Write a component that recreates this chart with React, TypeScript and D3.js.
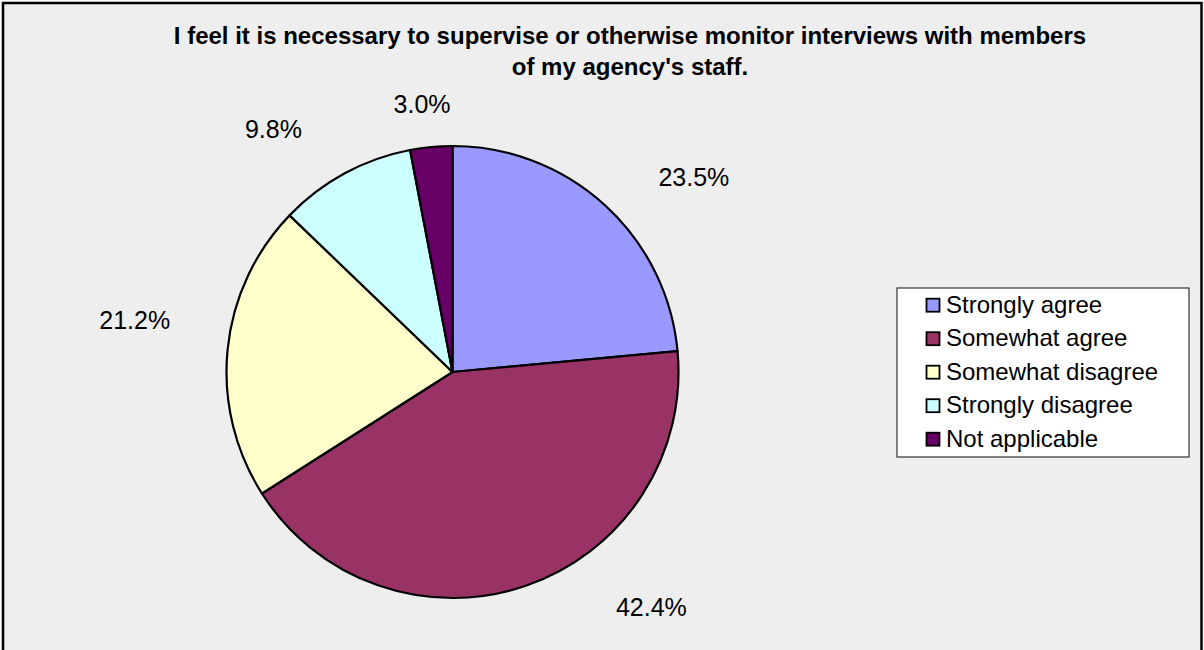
import React from "react";
import * as d3 from "d3";

const categories = ["Strongly agree", "Somewhat agree", "Somewhat disagree", "Strongly disagree", "Not applicable"];
const values = [23.5, 42.4, 21.2, 9.8, 3.0];
const colors = ["#9999FF", "#993366", "#FFFFCC", "#CCFFFF", "#660066"];
const titleLines = [
  "I feel it is necessary to supervise or otherwise monitor interviews with members",
  "of my agency's staff.",
];

// label placement tweaks (Excel best-fit style): angle nudge in degrees, radius in px
const labelNudgeDeg = [8.8, -21.3, 3.6, -7.9, -1.1];
const labelRadius = [310, 308, 322, 302, 269];

const W = 1204;
const H = 650;
const FONT = "'Liberation Sans', Arial, Helvetica, sans-serif";

export default function App() {
  const cx = 452.5;
  const cy = 372;
  const r = 226;

  const pie = d3
    .pie<number>()
    .sort(null)
    .value((d) => d);
  const arcs = pie(values);
  const arcGen = d3.arc<d3.PieArcDatum<number>>().innerRadius(0).outerRadius(r);

  const legendX = 897;
  const legendY = 288;
  const legendW = 292;
  const legendH = 169;
  const rowY = d3
    .scaleLinear()
    .domain([0, categories.length - 1])
    .range([legendY + 24.7, legendY + 24.7 + 33.5 * (categories.length - 1)]);

  return (
    <svg
      width={W}
      height={H}
      style={{ position: "absolute", left: 0, top: 0, display: "block" }}
      xmlns="http://www.w3.org/2000/svg"
    >
      <rect x={0} y={0} width={W} height={H} fill="#ffffff" />
      <rect x={3} y={3} width={1198.5} height={680} fill="#EEEEEE" stroke="#000" strokeWidth={2.5} />
      <text
        x={630}
        y={44}
        textAnchor="middle"
        fontFamily={FONT}
        fontWeight="bold"
        fontSize={24}
        fill="#000"
      >
        {titleLines.map((l, i) => (
          <tspan key={i} x={630} y={44 + i * 31}>
            {l}
          </tspan>
        ))}
      </text>
      <g transform={`translate(${cx},${cy})`}>
        {arcs.map((a, i) => (
          <path key={i} d={arcGen(a) || ""} fill={colors[i]} stroke="#000" strokeWidth={2.2} strokeLinejoin="round" />
        ))}
        {arcs.map((a, i) => {
          const mid = (a.startAngle + a.endAngle) / 2 + (labelNudgeDeg[i] * Math.PI) / 180;
          const lx = Math.sin(mid) * labelRadius[i];
          const ly = -Math.cos(mid) * labelRadius[i];
          return (
            <text
              key={"l" + i}
              x={lx}
              y={ly}
              dy="0.35em"
              textAnchor="middle"
              fontFamily={FONT}
              fontSize={25}
              fill="#000"
            >
              {values[i].toFixed(1) + "%"}
            </text>
          );
        })}
      </g>
      <rect x={legendX} y={legendY} width={legendW} height={legendH} fill="#fff" stroke="#333" strokeWidth={1.2} />
      {categories.map((c, i) => (
        <g key={c}>
          <rect
            x={926.5}
            y={rowY(i) - 14}
            width={13}
            height={13}
            fill={colors[i]}
            stroke="#000"
            strokeWidth={1.8}
          />
          <text x={946} y={rowY(i)} fontFamily={FONT} fontSize={24} fill="#000">
            {c}
          </text>
        </g>
      ))}
    </svg>
  );
}
